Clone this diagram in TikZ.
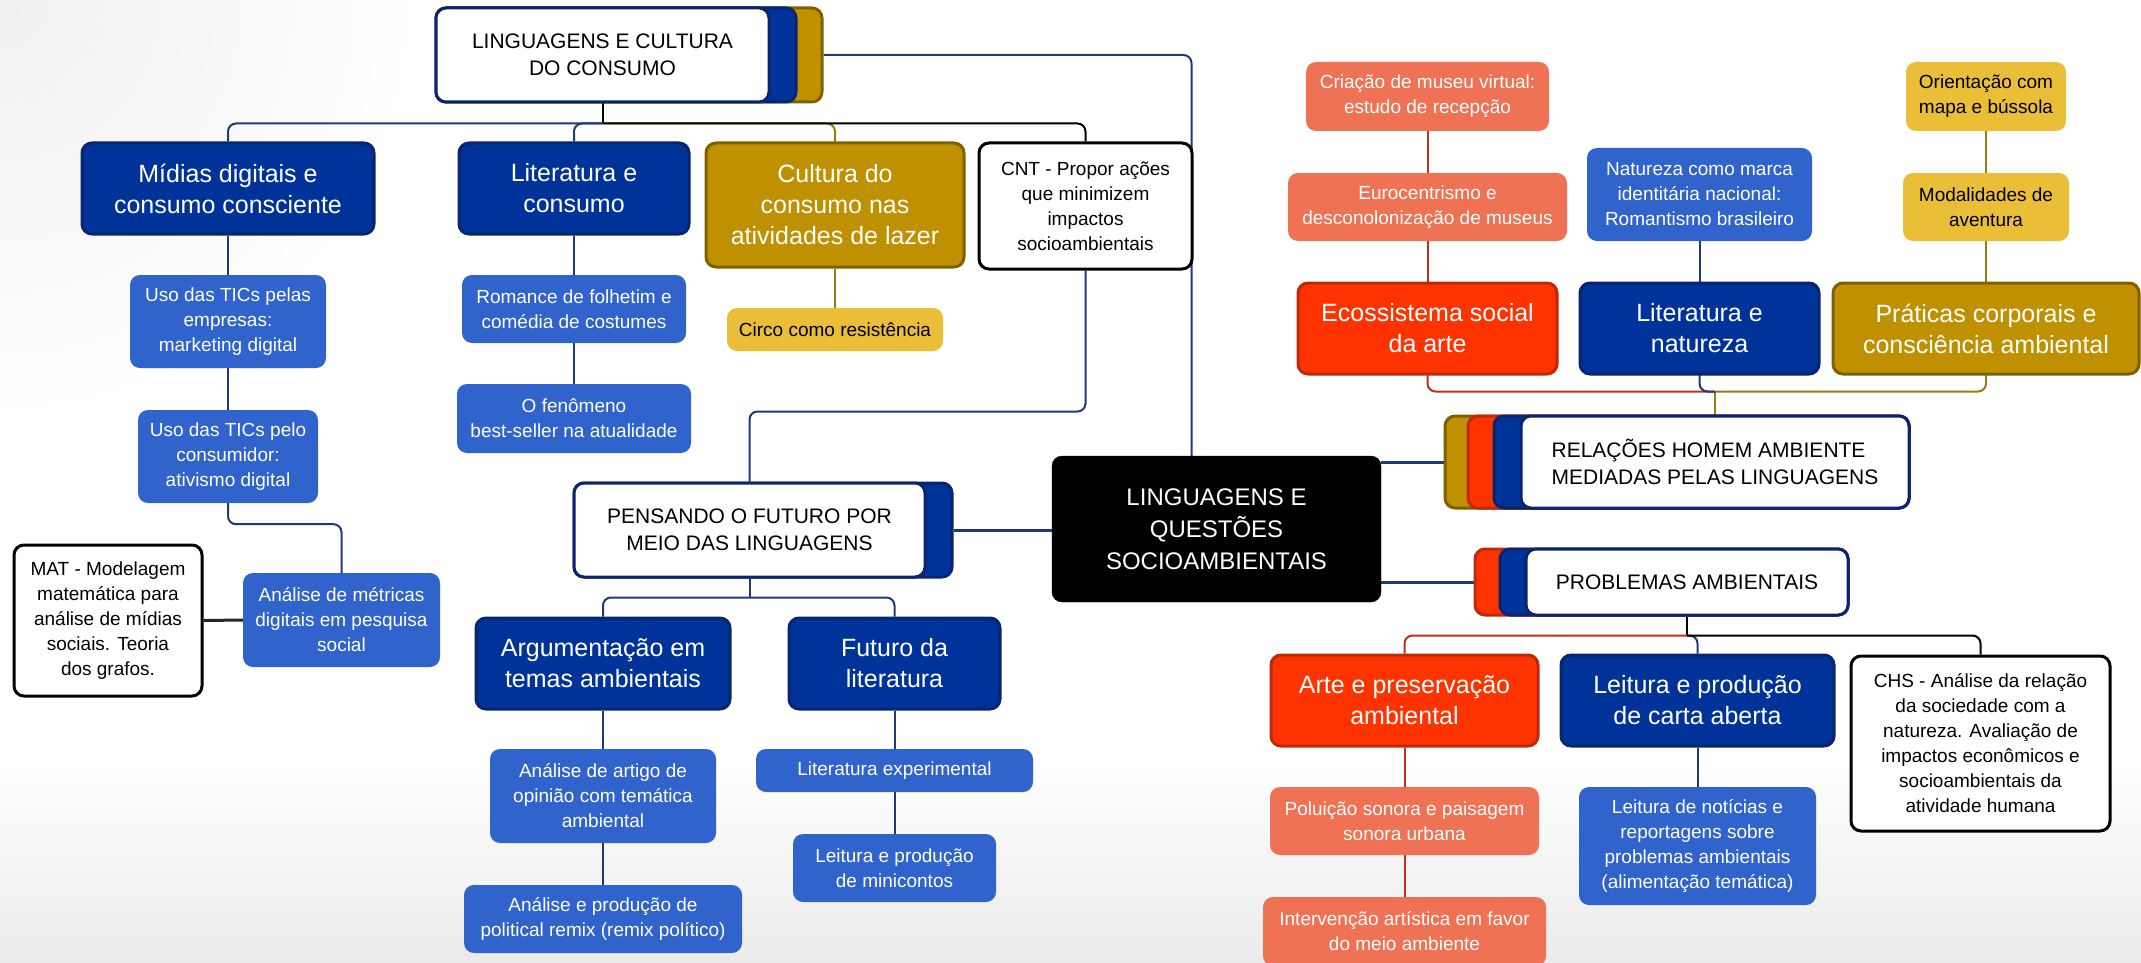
\documentclass[tikz,border=0pt]{standalone}
\usepackage{fontspec}
\setmainfont{Liberation Sans}
\definecolor{dblue}{HTML}{003399}
\definecolor{dbluebd}{HTML}{0A2470}
\definecolor{mblue}{HTML}{3063CB}
\definecolor{gold}{HTML}{BF9000}
\definecolor{goldbd}{HTML}{7F6000}
\definecolor{lgold}{HTML}{EBBE37}
\definecolor{redf}{HTML}{FF3300}
\definecolor{redbd}{HTML}{C0280A}
\definecolor{salmon}{HTML}{EF7254}
\definecolor{navyline}{HTML}{1F3A7A}
\definecolor{goldline}{HTML}{9C7A10}
\definecolor{redline}{HTML}{C0301A}
\pgfdeclarelayer{back}
\pgfdeclarelayer{bg}
\pgfsetlayers{back,bg,main}
\newcommand\BX[7]{\node[#2, minimum width={#5-#3}, minimum height={#6-#4}] (#1) at ({(#3+#5)/2},{(#4+#6)/2}) {#7};}
\tikzset{
  box/.style={rounded corners=10pt, inner sep=0pt, align=center},
  big/.style={box, font=\fontsize{25}{31}\selectfont, text=white, line width=3pt},
  dbox/.style={big, fill=dblue, draw=dbluebd},
  gbox/.style={big, fill=gold, draw=goldbd},
  rbox/.style={big, fill=redf, draw=redbd},
  cbox/.style={box, font=\fontsize{24}{32}\selectfont, text=white, fill=black, draw=black},
  small/.style={box, font=\fontsize{19}{25}\selectfont},
  mbox/.style={small, fill=mblue, text=white},
  sbox/.style={small, fill=salmon, text=white},
  lbox/.style={small, fill=lgold, text=black},
  wbox/.style={small, fill=white, draw=black, line width=3pt, text=black},
  hdr/.style={box, fill=white, draw=dbluebd, line width=3pt, font=\fontsize{21}{27}\selectfont},
  layer/.style={rounded corners=10pt, line width=3pt, inner sep=0pt},
  conn/.style={line width=2pt, rounded corners=8pt},
}
\begin{document}
\begin{tikzpicture}[x=1pt,y=-1pt]
\useasboundingbox (0,0) rectangle (2141,963);
\begin{pgfonlayer}{back}
  \fill[white] (0,0) rectangle (2141,963);
  \shade[inner color=black!6, outer color=white] (0,0) circle (420);
  \shade[top color=white, bottom color=black!8] (0,760) rectangle (2141,963);
\end{pgfonlayer}

% ---- top header
\BX{topgold}{layer, fill=gold, draw=goldbd}{436}{8}{822}{102}{}
\BX{topblue}{layer, fill=dblue, draw=dbluebd}{436}{8}{796}{102}{}
\BX{top}{hdr}{436}{8}{769}{102}{LINGUAGENS E CULTURA\\DO CONSUMO}

\BX{midias}{dbox}{82}{143}{374}{234}{Mídias digitais e\\consumo consciente}
\BX{litc}{dbox}{459}{143}{689}{234}{Literatura e\\consumo}
\BX{cult}{gbox}{706}{143}{964}{267}{Cultura do\\consumo nas\\atividades de lazer}
\BX{cnt}{wbox}{979}{143}{1192}{269}{CNT - Propor ações\\que minimizem\\impactos\\socioambientais}

\BX{usoemp}{mbox}{130}{275}{326}{368}{Uso das TICs pelas\\empresas:\\marketing digital}
\BX{usocons}{mbox}{138}{410}{318}{503}{Uso das TICs pelo\\consumidor:\\ativismo digital}
\BX{metricas}{mbox}{243}{573}{440}{667}{Análise de métricas\\digitais em pesquisa\\social}
\BX{mat}{wbox}{14}{545}{202}{696}{MAT - Modelagem\\matemática para\\análise de mídias\\sociais. Teoria\\dos grafos.}
\BX{romance}{mbox}{462}{275}{686}{343}{Romance de folhetim e\\comédia de costumes}
\BX{fenomeno}{mbox}{457}{384}{691}{453}{O fenômeno\\best-seller na atualidade}
\BX{circo}{lbox}{727}{308}{943}{351}{Circo como resistência}

% ---- pensando
\BX{pensblue}{layer, fill=dblue, draw=dbluebd}{574}{483}{952}{577}{}
\BX{pens}{hdr}{574}{483}{925}{577}{PENSANDO O FUTURO POR\\MEIO DAS LINGUAGENS}
\BX{arg}{dbox}{476}{618}{730}{709}{Argumentação em\\temas ambientais}
\BX{futuro}{dbox}{789}{618}{1000}{709}{Futuro da\\literatura}
\BX{artigo}{mbox}{490}{749}{716}{843}{Análise de artigo de\\opinião com temática\\ambiental}
\BX{remix}{mbox}{464}{885}{742}{953}{Análise e produção de\\political remix (remix político)}
\BX{litexp}{mbox}{756}{749}{1033}{792}{Literatura experimental}
\BX{mini}{mbox}{793}{834}{996}{902}{Leitura e produção\\de minicontos}

% ---- central
\BX{central}{cbox}{1052}{456}{1381}{602}{LINGUAGENS E\\QUESTÕES\\SOCIOAMBIENTAIS}

% ---- relacoes
\BX{relgold}{layer, fill=gold, draw=goldbd}{1445}{416}{1909}{508}{}
\BX{relred}{layer, fill=redf, draw=redbd}{1468}{416}{1909}{508}{}
\BX{relblue}{layer, fill=dblue, draw=dbluebd}{1494}{416}{1909}{508}{}
\BX{rel}{hdr, align=left}{1521}{416}{1909}{508}{RELAÇÕES HOMEM AMBIENTE\\MEDIADAS PELAS LINGUAGENS}
\BX{eco}{rbox}{1298}{283}{1557}{374}{Ecossistema social\\da arte}
\BX{litn}{dbox}{1580}{283}{1819}{374}{Literatura e\\natureza}
\BX{prat}{gbox}{1833}{283}{2139}{374}{Práticas corporais e\\consciência ambiental}
\BX{euro}{sbox}{1288}{173}{1567}{241}{Eurocentrismo e\\desconolonização de museus}
\BX{criacao}{sbox}{1306}{62}{1549}{131}{Criação de museu virtual:\\estudo de recepção}
\BX{natm}{mbox}{1587}{148}{1812}{241}{Natureza como marca\\identitária nacional:\\Romantismo brasileiro}
\BX{mod}{lbox}{1903}{173}{2069}{241}{Modalidades de\\aventura}
\BX{ori}{lbox, align=left}{1906}{62}{2066}{131}{Orientação com\\mapa e bússola}

% ---- problemas
\BX{probred}{layer, fill=redf, draw=redbd}{1475}{549}{1848}{615}{}
\BX{probblue}{layer, fill=dblue, draw=dbluebd}{1500}{549}{1848}{615}{}
\BX{prob}{hdr}{1526}{549}{1848}{615}{PROBLEMAS AMBIENTAIS}
\BX{arte}{rbox}{1271}{655}{1538}{746}{Arte e preservação\\ambiental}
\BX{leit}{dbox}{1561}{655}{1834}{746}{Leitura e produção\\de carta aberta}
\BX{chs}{wbox}{1851}{656}{2110}{831}{CHS - Análise da relação\\da sociedade com a\\natureza. Avaliação de\\impactos econômicos e\\socioambientais da\\atividade humana}
\BX{polu}{sbox}{1270}{787}{1539}{855}{Poluição sonora e paisagem\\sonora urbana}
\BX{interv}{sbox}{1263}{897}{1546}{966}{Intervenção artística em favor\\do meio ambiente}
\BX{noticias}{mbox}{1579}{787}{1816}{905}{Leitura de notícias e\\reportagens sobre\\problemas ambientais\\(alimentação temática)}

% ---- connectors
\begin{pgfonlayer}{bg}
  \path (top.south) ++(0,20) coordinate (tb);
  \draw[conn, black] (top.south) -- (tb);
  \draw[conn, navyline] (tb) -| (midias.north);
  \draw[conn, navyline] (tb) -| (litc.north);
  \draw[conn, goldline] (tb) -| (cult.north);
  \draw[conn, black] (tb) -| (cnt.north);
  \draw[conn, navyline] (midias.south) -- (usoemp.north);
  \draw[conn, navyline] (usoemp.south) -- (usocons.north);
  \draw[conn, navyline] (usocons.south) -- ++(0,21) -| (metricas.north);
  \draw[line width=3pt, black!85] (mat.east) -- (metricas.west);
  \draw[conn, navyline] (litc.south) -- (romance.north);
  \draw[conn, navyline] (romance.south) -- (fenomeno.north);
  \draw[conn, goldline] (cult.south) -- (circo.north);
  \draw[conn, navyline] (cnt.south) -- ++(0,141) -| (pens.north);
  \draw[conn, navyline] (topgold.east) -| ([xshift=-25pt]central.north);
  \draw[line width=3pt, navyline] (pensblue.east) -- (pensblue.east -| central.west);
  \path (pens.south) ++(0,19) coordinate (pb);
  \draw[conn, navyline] (pens.south) -- (pb);
  \draw[conn, navyline] (pb) -| (arg.north);
  \draw[conn, navyline] (pb) -| (futuro.north);
  \draw[conn, navyline] (arg.south) -- (artigo.north);
  \draw[conn, navyline] (artigo.south) -- (remix.north);
  \draw[conn, navyline] (futuro.south) -- (litexp.north);
  \draw[conn, navyline] (litexp.south) -- (mini.north);
  \draw[line width=3pt, navyline] (relgold.west -| central.east) -- (relgold.west);
  \draw[line width=3pt, navyline] (probred.west -| central.east) -- (probred.west);
  \path (rel.north) ++(0,-23) coordinate (rb);
  \draw[conn, goldline] (rel.north) -- (rb);
  \draw[conn, redline] (rb) -| (eco.north);
  \draw[conn, navyline] (rb) -| (litn.north);
  \draw[conn, goldline] (rb) -| (prat.north);
  \draw[conn, redline] (eco.north) -- (euro.south);
  \draw[conn, redline] (euro.north) -- (criacao.south);
  \draw[conn, navyline] (litn.north) -- (natm.south);
  \draw[conn, goldline] (prat.north) -- (mod.south);
  \draw[conn, goldline] (mod.north) -- (ori.south);
  \path (prob.south) ++(0,19) coordinate (qb);
  \draw[conn, black] (prob.south) -- (qb);
  \draw[conn, redline] (qb) -| (arte.north);
  \draw[conn, navyline] (qb) -| (leit.north);
  \draw[conn, black] (qb) -| (chs.north);
  \draw[conn, redline] (arte.south) -- (polu.north);
  \draw[conn, redline] (polu.south) -- (interv.north);
  \draw[conn, navyline] (leit.south) -- (noticias.north);
\end{pgfonlayer}
\end{tikzpicture}
\end{document}
